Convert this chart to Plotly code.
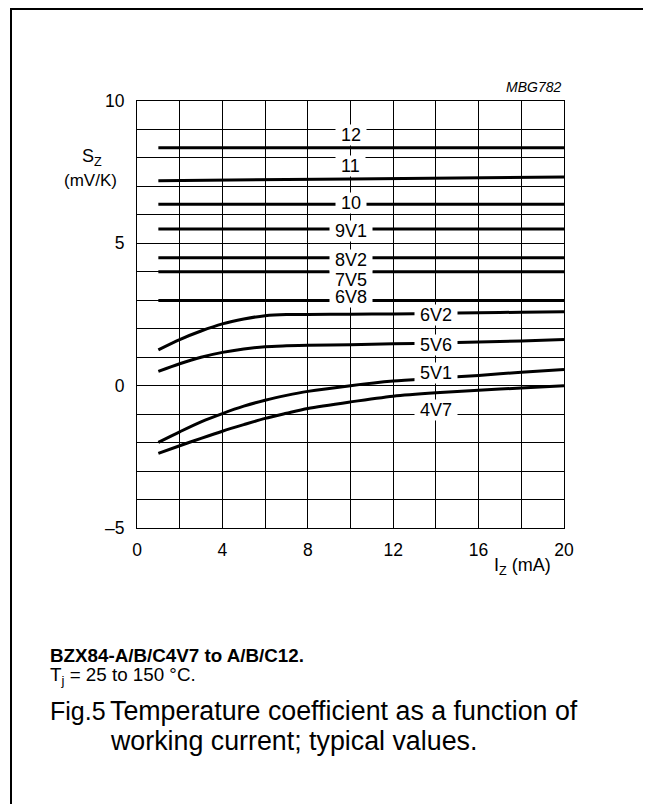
import plotly.graph_objects as go

# ---------------- data ----------------
iz = [1, 2, 3, 4, 5, 6, 7, 8, 10, 12, 14, 16, 18, 20]   # I_Z (mA)
iz_flat = [1, 20]
iz_11 = [1, 10, 20]

s_12 = [8.36, 8.36]
s_11 = [7.20, 7.26, 7.33]
s_10 = [6.37, 6.37]
s_9v1 = [5.50, 5.50]
s_8v2 = [4.49, 4.49]
s_7v5 = [4.00, 4.00]
s_6v8 = [2.99, 2.99]
s_6v2 = [1.26, 1.62, 1.92, 2.17, 2.34, 2.46, 2.50, 2.50, 2.51, 2.52, 2.54, 2.56, 2.58, 2.60]
s_5v6 = [0.50, 0.77, 1.00, 1.17, 1.29, 1.37, 1.40, 1.42, 1.44, 1.47, 1.50, 1.53, 1.57, 1.62]
s_5v1 = [-1.99, -1.62, -1.27, -0.98, -0.72, -0.51, -0.34, -0.20, 0.00, 0.16, 0.26, 0.36, 0.47, 0.57]
s_4v7 = [-2.38, -2.11, -1.85, -1.60, -1.37, -1.15, -0.97, -0.80, -0.57, -0.37, -0.25, -0.16, -0.08, 0.00]

labels_upper = ["12", "11", "10", "9V1", "8V2", "7V5", "6V8"]
labels_upper_y = [8.81, 7.73, 6.40, 5.42, 4.43, 3.72, 3.11]
label_upper_x = 10
labels_lower = ["6V2", "5V6", "5V1", "4V7"]
labels_lower_y = [2.48, 1.44, 0.44, -0.86]
label_lower_x = 14

x_tickvals = [0, 4, 8, 12, 16, 20]
x_ticktext = ["0", "4", "8", "12", "16", "20"]
y_tickvals = [-5, 0, 5, 10]
y_ticktext = ["\u20135", "0", "5", "10"]

# ---------------- layout geometry ----------------
OFF = 8                          # page body margin (figure origin in the window)
W, H = 651 - OFF, 812 - 2 * OFF  # fits the window, no scrollbars
ML, MT = 137 - OFF, 101 - OFF
PW = PH = 427
MR = W - ML - PW
MB = H - MT - PH


def px_x(X):
    """window pixel x -> paper x"""
    return (X - OFF - ML) / PW


def px_y(Y):
    """window pixel y -> paper y"""
    return (H - MB - (Y - OFF)) / PH


FONT = "Liberation Sans, Arial, Helvetica, sans-serif"

fig = go.Figure()

series = [
    (iz_flat, s_12), (iz_11, s_11), (iz_flat, s_10), (iz_flat, s_9v1),
    (iz_flat, s_8v2), (iz_flat, s_7v5), (iz_flat, s_6v8),
    (iz, s_6v2), (iz, s_5v6), (iz, s_5v1), (iz, s_4v7),
]
for xs, ys in series:
    fig.add_trace(go.Scatter(
        x=xs, y=ys, mode="lines",
        line=dict(color="black", width=3, shape="spline", smoothing=0.8),
        hoverinfo="skip", showlegend=False,
    ))

annotations = []
NB = "\u00a0"
for t, yv in zip(labels_upper, labels_upper_y):
    annotations.append(dict(
        x=label_upper_x, y=yv, xref="x", yref="y", text=NB + t + NB,
        showarrow=False, bgcolor="white", borderpad=0,
        font=dict(family=FONT, size=18, color="black"),
        xanchor="center", yanchor="middle",
    ))
for t, yv in zip(labels_lower, labels_lower_y):
    annotations.append(dict(
        x=label_lower_x, y=yv, xref="x", yref="y", text=NB + t + NB,
        showarrow=False, bgcolor="white", borderpad=0,
        font=dict(family=FONT, size=18, color="black"),
        xanchor="center", yanchor="middle",
    ))

annotations += [
    dict(x=px_x(563), y=px_y(87), xref="paper", yref="paper", text="<i>MBG782</i>",
         showarrow=False, xanchor="right", yanchor="middle",
         font=dict(family=FONT, size=14, color="black")),
    dict(x=px_x(92), y=px_y(157), xref="paper", yref="paper", text="S<sub>Z</sub>",
         showarrow=False, xanchor="center", yanchor="middle",
         font=dict(family=FONT, size=18, color="black")),
    dict(x=px_x(119), y=px_y(180), xref="paper", yref="paper", text="(mV/K)",
         showarrow=False, xanchor="right", yanchor="middle",
         font=dict(family=FONT, size=17, color="black")),
    dict(x=px_x(553), y=px_y(566), xref="paper", yref="paper", text="I<sub>Z</sub> (mA)",
         showarrow=False, xanchor="right", yanchor="middle",
         font=dict(family=FONT, size=18, color="black")),
    dict(x=px_x(48), y=px_y(655), xref="paper", yref="paper",
         text="<b>BZX84-A/B/C4V7 to A/B/C12.</b>",
         showarrow=False, xanchor="left", yanchor="middle",
         font=dict(family=FONT, size=18.8, color="black")),
    dict(x=px_x(48), y=px_y(676), xref="paper", yref="paper",
         text="T<sub>j</sub> = 25 to 150 \u00b0C.",
         showarrow=False, xanchor="left", yanchor="middle",
         font=dict(family=FONT, size=18.8, color="black")),
    dict(x=px_x(48), y=px_y(711), xref="paper", yref="paper", text="Fig.5",
         showarrow=False, xanchor="left", yanchor="middle",
         font=dict(family=FONT, size=25, color="black")),
    dict(x=px_x(108), y=px_y(711), xref="paper", yref="paper",
         text="Temperature coefficient as a function of",
         showarrow=False, xanchor="left", yanchor="middle",
         font=dict(family=FONT, size=26.8, color="black")),
    dict(x=px_x(108), y=px_y(741), xref="paper", yref="paper",
         text="working current; typical values.",
         showarrow=False, xanchor="left", yanchor="middle",
         font=dict(family=FONT, size=26.8, color="black")),
]

shapes = [
    dict(type="line", xref="paper", yref="paper",
         x0=px_x(11), x1=px_x(11), y0=px_y(812), y1=px_y(8),
         line=dict(color="black", width=2)),
    dict(type="line", xref="paper", yref="paper",
         x0=px_x(10), x1=px_x(651), y0=px_y(9), y1=px_y(9),
         line=dict(color="black", width=2)),
]

fig.update_layout(
    width=W, height=H, autosize=False,
    margin=dict(l=ML, r=MR, t=MT, b=MB),
    paper_bgcolor="white", plot_bgcolor="white",
    font=dict(family=FONT, size=17, color="black"),
    annotations=annotations, shapes=shapes, showlegend=False,
)
fig.update_xaxes(
    range=[0, 20], tickvals=x_tickvals, ticktext=x_ticktext,
    showgrid=True, gridcolor="black", gridwidth=1,
    minor=dict(dtick=2, showgrid=True, gridcolor="black", gridwidth=1),
    showline=True, linecolor="black", linewidth=1, mirror=True,
    zeroline=False, ticks="", ticklabelstandoff=6,
    tickfont=dict(family=FONT, size=17.5, color="black"),
)
fig.update_yaxes(
    range=[-5, 10], tickvals=y_tickvals, ticktext=y_ticktext,
    showgrid=True, gridcolor="black", gridwidth=1,
    minor=dict(dtick=1, showgrid=True, gridcolor="black", gridwidth=1),
    showline=True, linecolor="black", linewidth=1, mirror=True,
    zeroline=False, ticks="", ticklabelstandoff=8,
    tickfont=dict(family=FONT, size=17.5, color="black"),
)

fig.write_html("out.html")
